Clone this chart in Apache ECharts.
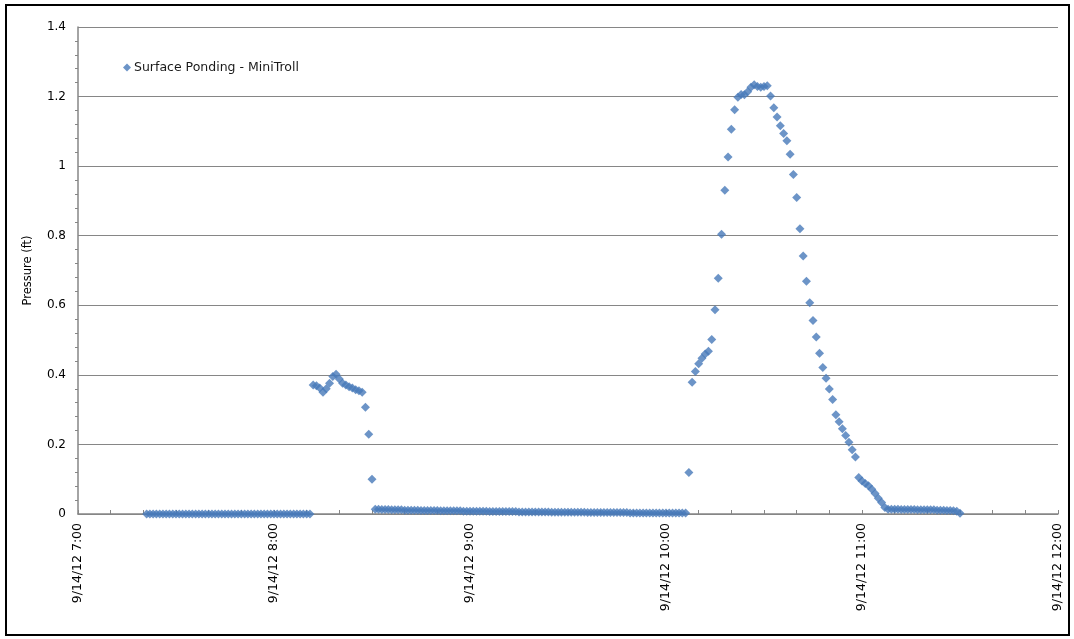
<!DOCTYPE html>
<html>
<head>
<meta charset="utf-8">
<title>Surface Ponding - MiniTroll</title>
<script src="https://cdn.jsdelivr.net/npm/echarts@6/dist/echarts.min.js"></script>
<style>
  html, body { margin: 0; padding: 0; background: #ffffff; }
  #chart { width: 1074px; height: 639px; }
</style>
</head>
<body>
<div id="chart"></div>
<script>
// MiniTroll surface ponding record, 9/14/12, one reading per minute.
// Each block lists its first reading time (HH:MM) and the pressures (ft) that follow.
const seriesName = 'Surface Ponding - MiniTroll';
const datePrefix = '9/14/12';

// Dry period before the first inflow
const dryStart = '7:21';
const dryValues = [
  0, 0, 0, 0, 0, 0, 0, 0, 0, 0,
  0, 0, 0, 0, 0, 0, 0, 0, 0, 0,
  0, 0, 0, 0, 0, 0, 0, 0, 0, 0,
  0, 0, 0, 0, 0, 0, 0, 0, 0, 0,
  0, 0, 0, 0, 0, 0, 0, 0, 0, 0,
  0
];

// Short first ponding event
const firstEventStart = '8:12';
const firstEventValues = [
  0.371, 0.369, 0.362, 0.350, 0.360, 0.376, 0.395, 0.402, 0.388, 0.376,
  0.371, 0.366, 0.362, 0.357, 0.354, 0.350, 0.307, 0.229, 0.100
];

// Residual water between events
const residualStart = '8:31';
const residualValues = [
  0.014, 0.014, 0.013, 0.013, 0.013, 0.012, 0.012, 0.012, 0.012, 0.011,
  0.011, 0.011, 0.011, 0.011, 0.010, 0.010, 0.010, 0.010, 0.010, 0.010,
  0.009, 0.009, 0.009, 0.009, 0.009, 0.009, 0.009, 0.008, 0.008, 0.008,
  0.008, 0.008, 0.008, 0.008, 0.008, 0.007, 0.007, 0.007, 0.007, 0.007,
  0.007, 0.007, 0.007, 0.007, 0.006, 0.006, 0.006, 0.006, 0.006, 0.006,
  0.006, 0.006, 0.006, 0.006, 0.005, 0.005, 0.005, 0.005, 0.005, 0.005,
  0.005, 0.005, 0.005, 0.005, 0.005, 0.004, 0.004, 0.004, 0.004, 0.004,
  0.004, 0.004, 0.004, 0.004, 0.004, 0.004, 0.004, 0.004, 0.003, 0.003,
  0.003, 0.003, 0.003, 0.003, 0.003, 0.003, 0.003, 0.003, 0.003, 0.003,
  0.003, 0.003, 0.003, 0.003, 0.003, 0.003
];

// Main ponding event and recession
const mainEventStart = '10:07';
const mainEventValues = [
  0.119, 0.379, 0.410, 0.432, 0.448, 0.460, 0.468, 0.502, 0.587, 0.678,
  0.804, 0.931, 1.026, 1.106, 1.162, 1.198, 1.206, 1.205, 1.214, 1.227,
  1.234, 1.229, 1.227, 1.229, 1.231, 1.202, 1.168, 1.141, 1.116, 1.094,
  1.073, 1.034, 0.976, 0.910, 0.820, 0.742, 0.669, 0.607, 0.556, 0.509,
  0.462, 0.421, 0.390, 0.359, 0.329, 0.285, 0.265, 0.245, 0.226, 0.206,
  0.185, 0.164, 0.105, 0.095, 0.088, 0.081, 0.071, 0.059, 0.045, 0.033,
  0.019, 0.014
];

// Tail after the main event
const tailStart = '11:09';
const tailValues = [
  0.014, 0.014, 0.014, 0.013, 0.013, 0.013, 0.013, 0.013, 0.012, 0.012,
  0.012, 0.012, 0.012, 0.012, 0.011, 0.011, 0.011, 0.010, 0.010, 0.009,
  0.008, 0.002
];

// Axis range, minutes after midnight
const xMin = 420;   // 7:00
const xMax = 720;   // 12:00
const xStep = 60;   // one hour
const yMin = 0;
const yMax = 1.4;
const yStep = 0.2;

function toMinutes(hhmm) {
  const parts = hhmm.split(':');
  return Number(parts[0]) * 60 + Number(parts[1]);
}

function block(start, values) {
  const t0 = toMinutes(start);
  return values.map((v, i) => [t0 + i, v]);
}

const points = [].concat(
  block(dryStart, dryValues),
  block(firstEventStart, firstEventValues),
  block(residualStart, residualValues),
  block(mainEventStart, mainEventValues),
  block(tailStart, tailValues)
);

function timeLabel(m) {
  const h = Math.floor(m / 60);
  const mm = String(m % 60).padStart(2, '0');
  return datePrefix + ' ' + h + ':' + mm;
}

const axisGray = '#868686';
const textFont = 'DejaVu Sans, Verdana, sans-serif';

const chart = echarts.init(document.getElementById('chart'), null, { renderer: 'canvas' });

chart.setOption({
  backgroundColor: '#ffffff',
  animation: false,
  textStyle: { fontFamily: textFont },
  grid: { left: 78, top: 27, width: 980, height: 487 },
  legend: {
    left: 118,
    top: 56,
    orient: 'vertical',
    icon: 'diamond',
    itemWidth: 8,
    itemHeight: 8,
    itemGap: 4,
    textStyle: { fontSize: 12.5, color: '#1a1a1a', fontFamily: textFont, padding: [0, 0, 0, -2] },
    data: [seriesName]
  },
  xAxis: {
    type: 'value',
    min: xMin,
    max: xMax,
    interval: xStep,
    axisLine: { show: true, onZero: false, lineStyle: { color: axisGray, width: 1.5 } },
    axisTick: { show: true, inside: true, length: 4, lineStyle: { color: axisGray } },
    minorTick: { show: true, splitNumber: 6, length: 4, lineStyle: { color: axisGray } },
    splitLine: { show: false },
    axisLabel: {
      rotate: 90,
      margin: 9,
      fontSize: 12.5,
      color: '#000000',
      fontFamily: textFont,
      formatter: timeLabel
    }
  },
  yAxis: {
    type: 'value',
    min: yMin,
    max: yMax,
    interval: yStep,
    name: 'Pressure (ft)',
    nameLocation: 'middle',
    nameGap: 44,
    nameRotate: 90,
    nameTextStyle: { fontSize: 11.5, color: '#000000', fontFamily: textFont },
    axisLine: { show: true, lineStyle: { color: axisGray, width: 1.5 } },
    axisTick: { show: false },
    minorTick: { show: true, splitNumber: 5, length: 3, lineStyle: { color: axisGray } },
    splitLine: { show: true, lineStyle: { color: axisGray, width: 1 } },
    axisLabel: { margin: 12, fontSize: 12, color: '#000000', fontFamily: textFont }
  },
  series: [{
    name: seriesName,
    type: 'scatter',
    symbol: 'diamond',
    symbolSize: 9,
    itemStyle: { color: '#4779b9' },
    data: points
  }],
  graphic: [{
    type: 'rect',
    silent: true,
    shape: { x: 6, y: 5, width: 1063, height: 630 },
    style: { fill: 'none', stroke: '#000000', lineWidth: 2 }
  }]
});
</script>
</body>
</html>
